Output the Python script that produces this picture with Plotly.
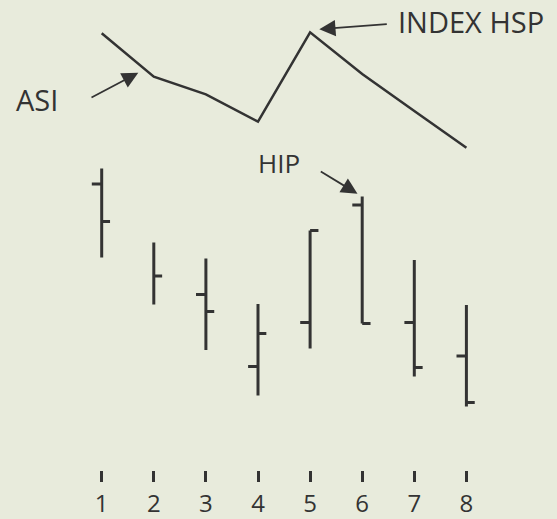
import plotly.graph_objects as go

# Trading periods and their labels
periods = [1, 2, 3, 4, 5, 6, 7, 8]
period_labels = ["1", "2", "3", "4", "5", "6", "7", "8"]

# Price bars (high / low / open / close); period 2 has no opening tick
high = [56.3, 41.5, 38.3, 29.2, 43.9, 50.7, 38.0, 29.0]
low = [38.5, 29.1, 20.0, 10.9, 20.3, 25.3, 14.7, 8.7]
open_ = [53.2, None, 31.1, 16.7, 25.5, 49.0, 25.5, 18.8]
close = [45.7, 34.8, 27.7, 23.3, 43.9, 25.3, 16.5, 9.5]

# Accumulation swing index for the same periods
asi = [126.7, 83.3, 65.7, 38.3, 127.7, 86.0, 49.0, 12.3]

INK = "#333333"
PAPER = "#e8ebdc"
FONT = "Open Sans"
OPEN_W = 0.19
CLOSE_W = 0.16

bx, by = [], []
for x, h, l, o, c in zip(periods, high, low, open_, close):
    bx += [x, x, None]
    by += [l, h, None]
    if o is not None:
        bx += [x - OPEN_W, x, None]
        by += [o, o, None]
    bx += [x, x + CLOSE_W, None]
    by += [c, c, None]

fig = go.Figure()
fig.add_trace(go.Scatter(
    x=bx, y=by, mode="lines", yaxis="y",
    line=dict(color=INK, width=3), hoverinfo="skip", showlegend=False,
))
fig.add_trace(go.Scatter(
    x=periods, y=asi, mode="lines", yaxis="y2",
    line=dict(color=INK, width=2.5), showlegend=False, name="ASI",
))

W, H = 557, 519
B = 37
PH = H - B


def px_x(px):
    return 1 + (px - 101.7) / 52.1


annotations = []
# arrows
arrow_style = dict(text="", showarrow=True, arrowhead=2, arrowsize=1.8,
                   arrowwidth=1.8, arrowcolor=INK)
annotations.append(dict(x=px_x(138.3), y=160 - 72.7, xref="x", yref="y2",
                        ax=-48.3, ay=25.6, **arrow_style))
annotations.append(dict(x=px_x(319.3), y=160 - 29.3, xref="x", yref="y2",
                        ax=69, ay=-5.3, **arrow_style))
annotations.append(dict(x=px_x(357.5), y=(450 - 193.8) / 5, xref="x", yref="y",
                        ax=-38.2, ay=-23.3, **arrow_style))
# labels
for txt, cx, cy, size in [("ASI", 37, 99.3, 29), ("INDEX HSP", 471, 22, 29), ("HIP", 279, 162.5, 26)]:
    annotations.append(dict(x=cx / W, y=(PH - cy) / PH, xref="paper", yref="paper",
                            text=txt, showarrow=False, xanchor="center", yanchor="middle",
                            font=dict(family=FONT, size=size, color=INK)))

fig.update_layout(
    width=W, height=H,
    margin=dict(l=0, r=0, t=0, b=B),
    paper_bgcolor=PAPER, plot_bgcolor=PAPER,
    xaxis=dict(range=[px_x(0), px_x(W)], tickvals=periods, ticktext=period_labels,
               ticks="inside", ticklen=11, tickwidth=3, tickcolor=INK,
               showgrid=False, zeroline=False, showline=False, automargin=False,
               ticklabelstandoff=5,
               tickfont=dict(family=FONT, size=24, color=INK)),
    yaxis=dict(range=[(450 - PH) / 5, 90], visible=False, showgrid=False, automargin=False),
    yaxis2=dict(range=[160 - PH, 160], overlaying="y", visible=False, showgrid=False,
                automargin=False),
    annotations=annotations,
)

fig.write_html("out.html")
